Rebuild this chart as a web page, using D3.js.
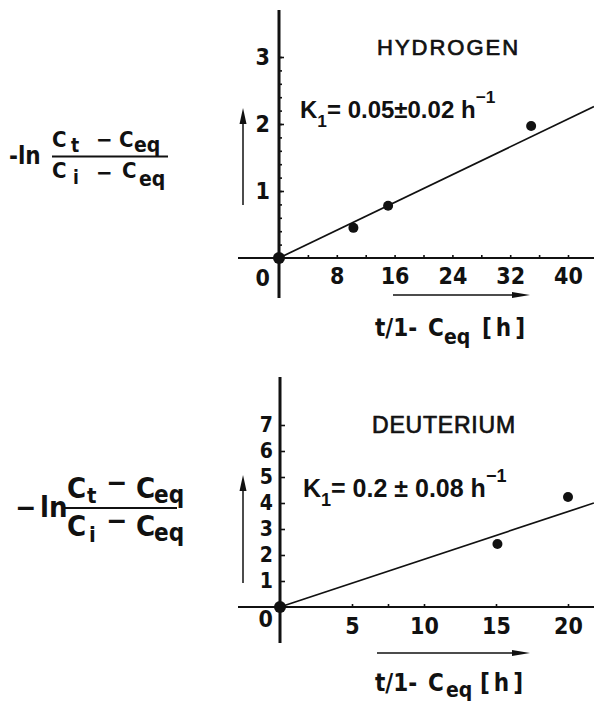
<!DOCTYPE html>
<html>
<head>
<meta charset="utf-8">
<script src="https://cdn.jsdelivr.net/npm/d3@7"></script>
<style>
  body { margin: 0; background: #fff; }
  svg text { font-family: "DejaVu Sans Condensed", "DejaVu Sans", sans-serif; fill: #111; }
  .tick-label text, .lbl { font-weight: 700; }
  .title { font-family: "Liberation Sans", Arial, sans-serif !important; font-weight: 400; stroke: #111; stroke-width: 0.7px; }
  .rate { font-family: "Liberation Sans", Arial, sans-serif !important; font-weight: 700; }
</style>
</head>
<body>
<svg id="chart" width="594" height="702"></svg>
<script>
// ---- Hydrogen: -ln((Ct - Ceq)/(Ci - Ceq)) against t/(1 - Ceq) ----
const hydrogenTime = [0, 10.3, 15.1, 34.9];
const hydrogenLnRatio = [0, 0.45, 0.78, 1.97];
const hydrogenFitTime = [0, 43.6];
const hydrogenFitLnRatio = [0, 2.26];
const hydrogenTimeTicks = [8, 16, 24, 32, 40];
const hydrogenTimeMinorTicks = [4, 8, 12, 16, 20, 24, 28, 32, 36, 40];
const hydrogenRatioTicks = [1, 2, 3];
const hydrogenRatioMinorTicks = d3.range(1, 16).map(i => i / 5);
const hydrogenRate = ["0.05", "0.02"];

// ---- Deuterium ----
const deuteriumTime = [0, 15.1, 20.0];
const deuteriumLnRatio = [0, 2.42, 4.23];
const deuteriumFitTime = [0, 21.8];
const deuteriumFitLnRatio = [0, 4.0];
const deuteriumTimeTicks = [5, 10, 15, 20];
const deuteriumTimeMinorTicks = [5, 7.5, 10, 15, 20];
const deuteriumRatioTicks = [1, 2, 3, 4, 5, 6, 7];
const deuteriumRate = ["0.2", "0.08"];

const svg = d3.select("#chart");
svg.append("rect").attr("width", 594).attr("height", 702).attr("fill", "#fff");

function cleanAxis(sel) {
  sel.attr("font-size", null).attr("font-family", null);
  sel.select(".domain").remove();
  sel.selectAll(".tick line").attr("stroke", "#111").attr("stroke-width", 1.6);
}

function drawPanel(p) {
  const x = d3.scaleLinear().domain([0, p.xMax]).range([p.x0, p.x1]);
  const y = d3.scaleLinear().domain([0, p.yMax]).range([p.y0, p.y1]);
  const g = svg.append("g");

  // axis lines
  g.append("line").attr("x1", p.xLine[0]).attr("x2", p.xLine[1])
    .attr("y1", y(0)).attr("y2", y(0)).attr("stroke", "#111").attr("stroke-width", 2.2);
  g.append("line").attr("x1", x(0)).attr("x2", x(0))
    .attr("y1", p.yLine[0]).attr("y2", p.yLine[1]).attr("stroke", "#111").attr("stroke-width", 3);

  // x ticks (small, upward) and labels
  g.append("g").attr("transform", `translate(0,${y(0)})`)
    .call(d3.axisBottom(x).tickValues(p.xMinor).tickSize(-3).tickFormat(""))
    .call(cleanAxis);
  g.append("g").attr("class", "tick-label").attr("transform", `translate(0,${y(0)})`)
    .call(d3.axisBottom(x).tickValues(p.xTicks).tickSize(0).tickPadding(p.xPad).tickFormat(d3.format("d")))
    .call(cleanAxis)
    .selectAll("text").attr("font-size", p.tickFont);

  // y ticks (to the right of the axis) and labels
  if (p.yMinor) {
    g.append("g").attr("transform", `translate(${x(0)},0)`)
      .call(d3.axisRight(y).tickValues(p.yMinor).tickSize(3).tickFormat(""))
      .call(cleanAxis);
  }
  g.append("g").attr("transform", `translate(${x(0)},0)`)
    .call(d3.axisRight(y).tickValues(p.yTicks).tickSize(5).tickFormat(""))
    .call(cleanAxis);
  g.append("g").attr("class", "tick-label").attr("transform", `translate(${x(0)},0)`)
    .call(d3.axisLeft(y).tickValues(p.yTicks).tickSize(0).tickPadding(p.yPad).tickFormat(d3.format("d")))
    .call(cleanAxis)
    .selectAll("text").attr("font-size", p.yTickFont);

  // shared origin label
  g.append("text").attr("class", "lbl").attr("x", x(0) - p.yPad).attr("y", y(0) + p.zeroDy)
    .attr("text-anchor", "end").attr("font-size", p.tickFont).text("0");

  // fitted straight line
  const fit = d3.zip(p.fitX, p.fitY);
  g.append("path").datum(fit)
    .attr("d", d3.line().x(d => x(d[0])).y(d => y(d[1])))
    .attr("fill", "none").attr("stroke", "#111").attr("stroke-width", 1.7);

  // measured points
  const pts = d3.zip(p.px, p.py);
  g.selectAll("circle.pt").data(pts).join("circle").attr("class", "pt")
    .attr("cx", d => x(d[0])).attr("cy", d => y(d[1]))
    .attr("r", d => d[0] === 0 ? 6 : 5).attr("fill", "#111");

  // panel title
  g.append("text").attr("class", "title").attr("x", p.titlePos[0]).attr("y", p.titlePos[1])
    .attr("font-size", p.titleFont).attr("letter-spacing", p.titleSpacing).text(p.title);

  // rate constant
  const k = g.append("text").attr("class", "rate").attr("x", p.kPos[0]).attr("y", p.kPos[1])
    .attr("font-size", p.kFont);
  k.append("tspan").text("K");
  k.append("tspan").attr("dy", 9).attr("font-size", p.kFont * 0.72).text("1");
  k.append("tspan").attr("dy", -9).text("= " + p.rate[0] + p.kGap + "±" + p.kGap + p.rate[1] + " h");
  k.append("tspan").attr("dy", -15).attr("font-size", p.kFont * 0.72).text("−1");
  return {x, y};
}

// arrows drawn beside the axes
function arrow(x1, y1, x2, y2, headLen, headHalf) {
  const ang = Math.atan2(y2 - y1, x2 - x1);
  const bx = x2 - headLen * Math.cos(ang), by = y2 - headLen * Math.sin(ang);
  svg.append("line").attr("x1", x1).attr("y1", y1).attr("x2", bx).attr("y2", by)
    .attr("stroke", "#111").attr("stroke-width", 1.5);
  const nx = -Math.sin(ang) * headHalf, ny = Math.cos(ang) * headHalf;
  svg.append("path").attr("d", `M${x2},${y2}L${bx + nx},${by + ny}L${bx - nx},${by - ny}Z`).attr("fill", "#111");
}

// text helper for formula pieces
function piece(x, y, str, size, spacing) {
  const t = svg.append("text").attr("x", x).attr("y", y).attr("font-size", size)
    .attr("font-weight", 700).text(str);
  if (spacing) t.attr("letter-spacing", spacing);
  return t;
}

// ---------- upper panel ----------
drawPanel({
  xMax: 40, x0: 279, x1: 568, yMax: 3, y0: 258, y1: 57,
  xLine: [238, 594], yLine: [10, 298],
  xTicks: hydrogenTimeTicks, xMinor: hydrogenTimeMinorTicks,
  yTicks: hydrogenRatioTicks, yMinor: hydrogenRatioMinorTicks,
  xPad: 10, yPad: 9, zeroDy: 28, tickFont: 23, yTickFont: 23,
  fitX: hydrogenFitTime, fitY: hydrogenFitLnRatio,
  px: hydrogenTime, py: hydrogenLnRatio,
  title: "HYDROGEN", titlePos: [377, 55], titleFont: 22, titleSpacing: 2,
  rate: hydrogenRate, kPos: [300, 118], kFont: 24, kGap: ""
});
arrow(243, 205, 243, 108, 16, 3.5);
arrow(393, 295, 530, 295, 18, 3);

// y label of upper panel
piece(9, 164, "-ln", 24);
piece(52, 147, "C", 22); piece(71, 152, "t", 19);
piece(96, 147, "−", 22); piece(119, 147, "C", 22); piece(134, 152, "eq", 21);
svg.append("line").attr("x1", 52).attr("x2", 168).attr("y1", 156.5).attr("y2", 156.5)
  .attr("stroke", "#111").attr("stroke-width", 2);
piece(52, 178, "C", 22); piece(73, 184, "i", 19);
piece(96, 180, "−", 22); piece(122, 178, "C", 22); piece(139, 186, "eq", 21);

// x label of upper panel
piece(375, 336, "t/1-", 24); piece(428, 336, "C", 24); piece(444, 344, "eq", 21);
piece(482, 336, "[h]", 24, 4);

// ---------- lower panel ----------
drawPanel({
  xMax: 20, x0: 280, x1: 568, yMax: 7, y0: 607, y1: 425,
  xLine: [238, 594], yLine: [377, 643],
  xTicks: deuteriumTimeTicks, xMinor: deuteriumTimeMinorTicks,
  yTicks: deuteriumRatioTicks, yMinor: null,
  xPad: 11, yPad: 7, zeroDy: 20, tickFont: 23, yTickFont: 21,
  fitX: deuteriumFitTime, fitY: deuteriumFitLnRatio,
  px: deuteriumTime, py: deuteriumLnRatio,
  title: "DEUTERIUM", titlePos: [372, 433], titleFont: 23, titleSpacing: 0.8,
  rate: deuteriumRate, kPos: [303, 497], kFont: 25, kGap: " "
});
arrow(243, 583, 243, 475, 16, 3.5);
arrow(377, 653, 530, 653, 18, 3);

// y label of lower panel
piece(15, 517, "−", 28); piece(40, 517, "ln", 29);
piece(67, 498, "C", 29); piece(87, 503, "t", 22);
piece(106, 492, "−", 28); piece(136, 498, "C", 29); piece(154, 503, "eq", 24);
svg.append("line").attr("x1", 62).attr("x2", 177).attr("y1", 508).attr("y2", 508)
  .attr("stroke", "#111").attr("stroke-width", 2.2);
piece(67, 536, "C", 29); piece(89, 542, "i", 22);
piece(106, 530, "−", 28); piece(136, 536, "C", 29); piece(154, 541, "eq", 24);

// x label of lower panel
piece(375, 691, "t/1-", 24); piece(428, 691, "C", 24); piece(446, 697, "eq", 21);
piece(480, 691, "[h]", 24, 4);
</script>
</body>
</html>
